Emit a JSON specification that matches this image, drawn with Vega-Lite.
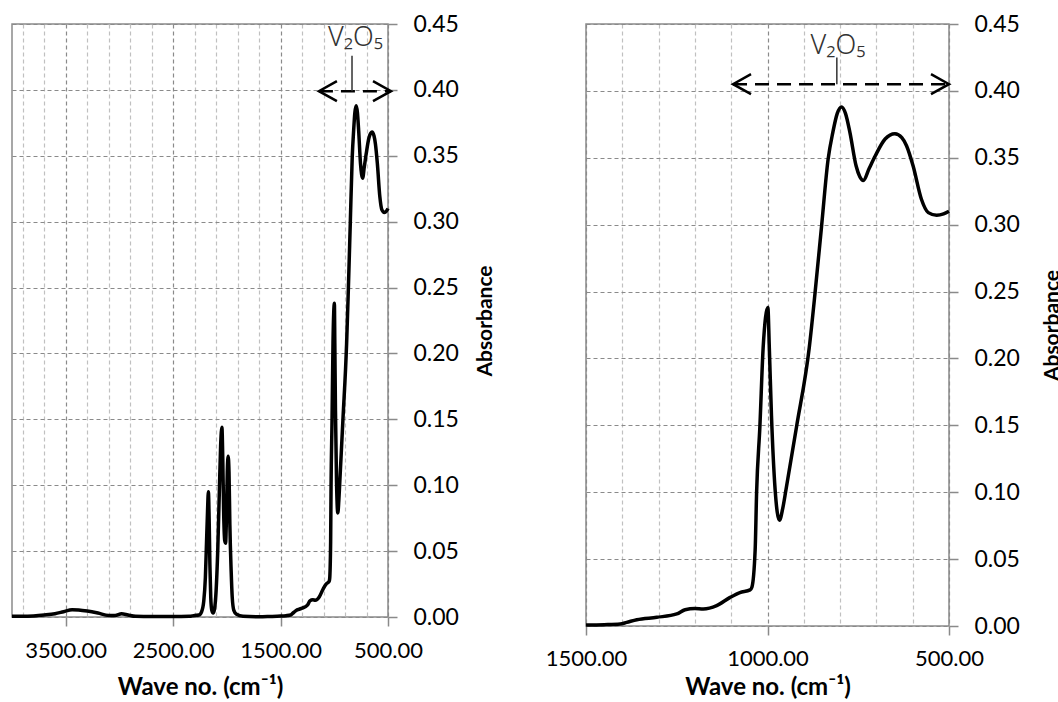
{
  "$schema": "https://vega.github.io/schema/vega-lite/v6.json",
  "padding": {"left": 4, "top": 12, "right": 0, "bottom": 0},
  "background": "white",
  "config": {"view": {"stroke": "#8a8a8a", "strokeWidth": 1.5}},
  "spacing": 47,
  "datasets": {
    "spectrum": [
      {"wn": 4000, "A": 0.0005}, {"wn": 3900, "A": 0.0005}, {"wn": 3800, "A": 0.0008}, {"wn": 3700, "A": 0.0015},
      {"wn": 3600, "A": 0.0025}, {"wn": 3520, "A": 0.004}, {"wn": 3440, "A": 0.0055}, {"wn": 3380, "A": 0.0053},
      {"wn": 3300, "A": 0.0045}, {"wn": 3200, "A": 0.003}, {"wn": 3100, "A": 0.0012}, {"wn": 3040, "A": 0.0012},
      {"wn": 2980, "A": 0.0025}, {"wn": 2920, "A": 0.0015}, {"wn": 2850, "A": 0.0005}, {"wn": 2700, "A": 0.0003},
      {"wn": 2500, "A": 0.0003}, {"wn": 2350, "A": 0.0005}, {"wn": 2300, "A": 0.0012}, {"wn": 2260, "A": 0.0015},
      {"wn": 2235, "A": 0.004}, {"wn": 2215, "A": 0.012}, {"wn": 2200, "A": 0.03}, {"wn": 2190, "A": 0.055},
      {"wn": 2180, "A": 0.08}, {"wn": 2172, "A": 0.095}, {"wn": 2165, "A": 0.075}, {"wn": 2158, "A": 0.04},
      {"wn": 2150, "A": 0.015}, {"wn": 2140, "A": 0.005}, {"wn": 2128, "A": 0.003}, {"wn": 2115, "A": 0.006},
      {"wn": 2100, "A": 0.02}, {"wn": 2085, "A": 0.05}, {"wn": 2070, "A": 0.095}, {"wn": 2058, "A": 0.13},
      {"wn": 2046, "A": 0.144}, {"wn": 2038, "A": 0.12}, {"wn": 2030, "A": 0.08}, {"wn": 2020, "A": 0.058},
      {"wn": 2012, "A": 0.056}, {"wn": 2004, "A": 0.075}, {"wn": 1996, "A": 0.11}, {"wn": 1988, "A": 0.122},
      {"wn": 1980, "A": 0.11}, {"wn": 1972, "A": 0.07}, {"wn": 1960, "A": 0.035}, {"wn": 1950, "A": 0.015},
      {"wn": 1935, "A": 0.005}, {"wn": 1910, "A": 0.002}, {"wn": 1850, "A": 0.0005}, {"wn": 1700, "A": 0.0002},
      {"wn": 1600, "A": 0.0004}, {"wn": 1500, "A": 0.0007}, {"wn": 1450, "A": 0.001}, {"wn": 1406, "A": 0.0015},
      {"wn": 1388, "A": 0.0027}, {"wn": 1360, "A": 0.0047}, {"wn": 1305, "A": 0.0065}, {"wn": 1250, "A": 0.009},
      {"wn": 1227, "A": 0.0122}, {"wn": 1200, "A": 0.013}, {"wn": 1177, "A": 0.0127}, {"wn": 1140, "A": 0.0152},
      {"wn": 1103, "A": 0.0214}, {"wn": 1076, "A": 0.025}, {"wn": 1048, "A": 0.027}, {"wn": 1043, "A": 0.029},
      {"wn": 1034, "A": 0.057}, {"wn": 1030, "A": 0.1}, {"wn": 1021, "A": 0.149}, {"wn": 1012, "A": 0.208},
      {"wn": 999, "A": 0.238}, {"wn": 995, "A": 0.208}, {"wn": 989, "A": 0.157}, {"wn": 979, "A": 0.102},
      {"wn": 967, "A": 0.079}, {"wn": 958, "A": 0.088}, {"wn": 949, "A": 0.102}, {"wn": 920, "A": 0.149},
      {"wn": 885, "A": 0.208}, {"wn": 869, "A": 0.249}, {"wn": 851, "A": 0.299}, {"wn": 833, "A": 0.349},
      {"wn": 820, "A": 0.369}, {"wn": 808, "A": 0.383}, {"wn": 796, "A": 0.388}, {"wn": 785, "A": 0.383},
      {"wn": 773, "A": 0.369}, {"wn": 756, "A": 0.344}, {"wn": 746, "A": 0.336}, {"wn": 736, "A": 0.333},
      {"wn": 720, "A": 0.342}, {"wn": 703, "A": 0.3515}, {"wn": 676, "A": 0.364}, {"wn": 649, "A": 0.368},
      {"wn": 630, "A": 0.365}, {"wn": 617, "A": 0.359}, {"wn": 599, "A": 0.344}, {"wn": 576, "A": 0.319},
      {"wn": 557, "A": 0.309}, {"wn": 534, "A": 0.307}, {"wn": 515, "A": 0.308}, {"wn": 500, "A": 0.31}
    ],
    "annL": [{"label": "V₂O₅", "tx": 803, "ty": 0.433, "xl": 1143, "xr": 472, "ya": 0.399, "xt": 835, "yt1": 0.426, "yt2": 0.399}],
    "annR": [{"label": "V₂O₅", "tx": 806, "ty": 0.4275, "xl": 1095, "xr": 500, "ya": 0.405, "xt": 809, "yt1": 0.425, "yt2": 0.405}]
  },
  "hconcat": [
    {
      "width": 376,
      "height": 593,
      "resolve": {"axis": {"x": "independent", "y": "independent"}},
      "layer": [
        {
          "data": {"name": "spectrum"},
          "mark": {"type": "line", "color": "black", "strokeWidth": 3.5, "interpolate": "monotone"},
          "encoding": {
            "x": {
              "field": "wn", "type": "quantitative", "title": "Wave no. (cm⁻¹)",
              "scale": {"domain": [500, 4000], "reverse": true, "nice": false, "zero": false},
              "axis": {
                "values": [500, 700, 900, 1100, 1300, 1500, 1700, 1900, 2100, 2300, 2500, 2700, 2900, 3100, 3300, 3500, 3700, 3900],
                "labelExpr": "(datum.value - 500) % 1000 === 0 ? format(datum.value, '.2f') : ''",
                "labelOverlap": false, "labelFlush": false, "labelBound": false,
                "labelFont": "Lato", "labelFontSize": 22, "labelColor": "black", "labelPadding": 14,
                "tickSize": 9, "tickColor": "#8a8a8a", "tickWidth": 1.5,
                "tickOpacity": {"condition": {"test": "(datum.value - 500) % 1000 === 0", "value": 1}, "value": 0},
                "grid": true,
                "gridColor": {"condition": {"test": "(datum.value - 500) % 1000 === 0", "value": "#8a8a8a"}, "value": "#c0c0c0"},
                "gridDash": [4, 3], "gridWidth": 1.2,
                "domain": false,
                "titleFont": "Lato", "titleFontWeight": "bold", "titleFontSize": 24,
                "titleColor": "black", "titlePadding": 14
              }
            },
            "y": {
              "field": "A", "type": "quantitative", "title": "Absorbance",
              "scale": {"domain": [0, 0.45], "nice": false, "zero": false},
              "axis": {
                "orient": "right",
                "values": [0, 0.05, 0.1, 0.15, 0.2, 0.25, 0.3, 0.35, 0.4, 0.45],
                "format": ".2f",
                "labelFont": "Lato", "labelFontSize": 23, "labelColor": "black", "labelPadding": 16,
                "tickSize": 9, "tickColor": "#8a8a8a", "tickWidth": 1.5,
                "grid": true, "gridColor": "#8a8a8a", "gridDash": [4, 3], "gridWidth": 1.2,
                "domain": false,
                "titleFont": "Lato", "titleFontWeight": "bold", "titleFontSize": 21,
                "titleColor": "black", "titleAngle": 270, "titleBaseline": "top", "titlePadding": 16
              }
            }
          }
        },
        {
          "data": {"name": "annL"},
          "mark": {"type": "rule", "color": "black", "strokeWidth": 2.5, "strokeDash": [14, 8]},
          "encoding": {
            "x": {"field": "xl", "type": "quantitative", "axis": null},
            "x2": {"field": "xr"},
            "y": {"field": "ya", "type": "quantitative", "axis": null}
          }
        },
        {
          "data": {"name": "annL"},
          "mark": {"type": "point", "shape": "M1.8,-1L0,0L1.8,1", "size": 400, "filled": false, "stroke": "black", "strokeWidth": 2.5, "opacity": 1},
          "encoding": {
            "x": {"field": "xl", "type": "quantitative", "axis": null},
            "y": {"field": "ya", "type": "quantitative", "axis": null}
          }
        },
        {
          "data": {"name": "annL"},
          "mark": {"type": "point", "shape": "M-1.8,-1L0,0L-1.8,1", "size": 400, "filled": false, "stroke": "black", "strokeWidth": 2.5, "opacity": 1},
          "encoding": {
            "x": {"field": "xr", "type": "quantitative", "axis": null},
            "y": {"field": "ya", "type": "quantitative", "axis": null}
          }
        },
        {
          "data": {"name": "annL"},
          "mark": {"type": "rule", "color": "#333333", "strokeWidth": 1.5},
          "encoding": {
            "x": {"field": "xt", "type": "quantitative", "axis": null},
            "y": {"field": "yt1", "type": "quantitative", "axis": null},
            "y2": {"field": "yt2"}
          }
        },
        {
          "data": {"name": "annL"},
          "mark": {"type": "text", "font": "Noto Sans", "fontSize": 27, "fontWeight": 300, "color": "#333333", "align": "center", "baseline": "alphabetic"},
          "encoding": {
            "x": {"field": "tx", "type": "quantitative", "axis": null},
            "y": {"field": "ty", "type": "quantitative", "axis": null},
            "text": {"field": "label"}
          }
        }
      ]
    },
    {
      "width": 363,
      "height": 602,
      "resolve": {"axis": {"x": "independent", "y": "independent"}},
      "layer": [
        {
          "data": {"name": "spectrum"},
          "transform": [{"filter": "datum.wn <= 1500"}],
          "mark": {"type": "line", "color": "black", "strokeWidth": 3.5, "interpolate": "monotone"},
          "encoding": {
            "x": {
              "field": "wn", "type": "quantitative", "title": "Wave no. (cm⁻¹)",
              "scale": {"domain": [500, 1500], "reverse": true, "nice": false, "zero": false},
              "axis": {
                "values": [500, 600, 700, 800, 900, 1000, 1100, 1200, 1300, 1400, 1500],
                "labelExpr": "datum.value % 500 === 0 ? format(datum.value, '.2f') : ''",
                "labelOverlap": false, "labelFlush": false, "labelBound": false,
                "labelFont": "Lato", "labelFontSize": 22, "labelColor": "black", "labelPadding": 13,
                "tickSize": 9, "tickColor": "#8a8a8a", "tickWidth": 1.5,
                "tickOpacity": {"condition": {"test": "datum.value % 500 === 0", "value": 1}, "value": 0},
                "grid": true,
                "gridColor": {"condition": {"test": "datum.value % 500 === 0", "value": "#8a8a8a"}, "value": "#c0c0c0"},
                "gridDash": [4, 3], "gridWidth": 1.2,
                "domain": false,
                "titleFont": "Lato", "titleFontWeight": "bold", "titleFontSize": 24,
                "titleColor": "black", "titlePadding": 6
              }
            },
            "y": {
              "field": "A", "type": "quantitative", "title": "Absorbance",
              "scale": {"domain": [0, 0.45], "nice": false, "zero": false},
              "axis": {
                "orient": "right",
                "values": [0, 0.05, 0.1, 0.15, 0.2, 0.25, 0.3, 0.35, 0.4, 0.45],
                "format": ".2f",
                "labelFont": "Lato", "labelFontSize": 23, "labelColor": "black", "labelPadding": 16,
                "tickSize": 9, "tickColor": "#8a8a8a", "tickWidth": 1.5,
                "grid": true, "gridColor": "#8a8a8a", "gridDash": [4, 3], "gridWidth": 1.2,
                "domain": false,
                "titleFont": "Lato", "titleFontWeight": "bold", "titleFontSize": 21,
                "titleColor": "black", "titleAngle": 270, "titleBaseline": "top", "titlePadding": 22
              }
            }
          }
        },
        {
          "data": {"name": "annR"},
          "mark": {"type": "rule", "color": "black", "strokeWidth": 2.5, "strokeDash": [14, 8]},
          "encoding": {
            "x": {"field": "xl", "type": "quantitative", "axis": null},
            "x2": {"field": "xr"},
            "y": {"field": "ya", "type": "quantitative", "axis": null}
          }
        },
        {
          "data": {"name": "annR"},
          "mark": {"type": "point", "shape": "M1.8,-1L0,0L1.8,1", "size": 400, "filled": false, "stroke": "black", "strokeWidth": 2.5, "opacity": 1},
          "encoding": {
            "x": {"field": "xl", "type": "quantitative", "axis": null},
            "y": {"field": "ya", "type": "quantitative", "axis": null}
          }
        },
        {
          "data": {"name": "annR"},
          "mark": {"type": "point", "shape": "M-1.8,-1L0,0L-1.8,1", "size": 400, "filled": false, "stroke": "black", "strokeWidth": 2.5, "opacity": 1},
          "encoding": {
            "x": {"field": "xr", "type": "quantitative", "axis": null},
            "y": {"field": "ya", "type": "quantitative", "axis": null}
          }
        },
        {
          "data": {"name": "annR"},
          "mark": {"type": "rule", "color": "#333333", "strokeWidth": 1.5},
          "encoding": {
            "x": {"field": "xt", "type": "quantitative", "axis": null},
            "y": {"field": "yt1", "type": "quantitative", "axis": null},
            "y2": {"field": "yt2"}
          }
        },
        {
          "data": {"name": "annR"},
          "mark": {"type": "text", "font": "Noto Sans", "fontSize": 27, "fontWeight": 300, "color": "#333333", "align": "center", "baseline": "alphabetic"},
          "encoding": {
            "x": {"field": "tx", "type": "quantitative", "axis": null},
            "y": {"field": "ty", "type": "quantitative", "axis": null},
            "text": {"field": "label"}
          }
        }
      ]
    }
  ]
}
